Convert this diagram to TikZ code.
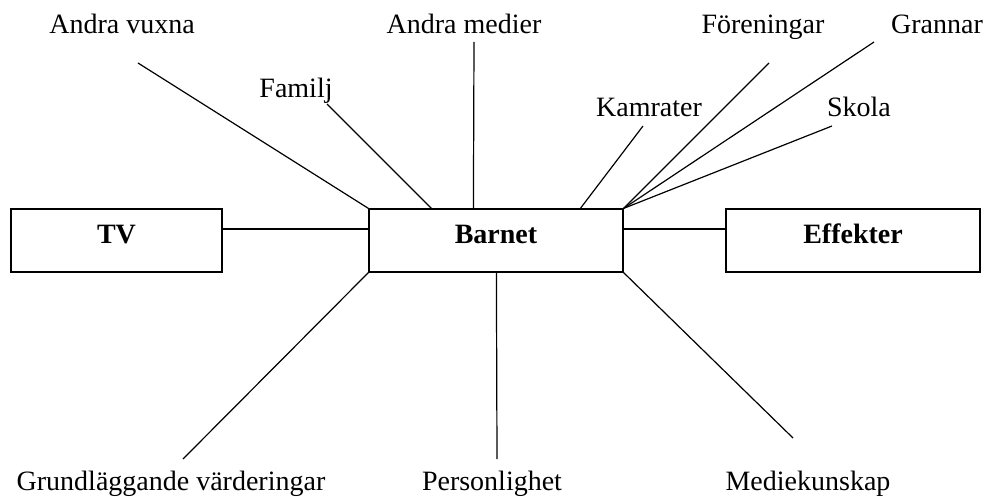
\documentclass[tikz,border=0pt]{standalone}
\usepackage{fontspec}
\setmainfont{Liberation Serif}
\usepackage{tikz}

\begin{document}
\begin{tikzpicture}[x=0.5pt, y=-0.5pt, line width=0.6pt,
    box/.style={rectangle, draw, inner sep=0pt, minimum height=31.5pt,
        text height=10pt, text depth=6.5pt, font=\fontsize{14}{16}\selectfont\bfseries},
    lbl/.style={anchor=base, inner sep=0pt, font=\fontsize{14}{16}\selectfont}]
            \useasboundingbox (0,0) rectangle (985,497);
            % Draw the three boxes in a row
            \node[box, minimum width=105.5pt] (TV) at (116.5, 240.5) {TV};
            \node[box, minimum width=127pt] (Barnet) at (496, 240.5) {Barnet};
            \node[box, minimum width=127pt] (Effekter) at (853, 240.5) {Effekter};
            \draw ([yshift=5.75pt]TV.east) -- ([yshift=5.75pt]Barnet.west);
            \draw ([yshift=5.75pt]Barnet.east) -- ([yshift=5.75pt]Effekter.west);

            % Labels above
            \node[lbl] (AV) at (122, 34) {Andra vuxna};
            \node[lbl] (AM) at (464, 34) {Andra medier};
            \node[lbl] (For) at (763, 34) {Föreningar};
            \node[lbl] (Gra) at (937, 34) {Grannar};
            \node[lbl] (Fam) at (296, 98) {Familj};
            \node[lbl] (Kam) at (649, 117) {Kamrater};
            \node[lbl] (Sko) at (859, 117) {Skola};
            % Labels below
            \node[lbl] (Gru) at (171, 490) {Grundläggande värderingar};
            \node[lbl] (Per) at (492, 490) {Personlighet};
            \node[lbl] (Med) at (808, 490) {Mediekunskap};

            % Free ends of the lines
            \coordinate (AV-e) at (138, 63);
            \coordinate (Fam-e) at (327, 104);
            \coordinate (AM-e) at (474, 42);
            \coordinate (Kam-e) at (643, 126);
            \coordinate (For-e) at (769, 63);
            \coordinate (Gra-e) at (874, 42);
            \coordinate (Sko-e) at (832, 126);
            \coordinate (Gru-e) at (183, 459);
            \coordinate (Per-e) at (497, 459);
            \coordinate (Med-e) at (793, 438);

            % Lines to the child
            \draw (AV-e) -- (Barnet.north west);
            \draw (Fam-e) -- ([xshift=31.5pt]Barnet.north west);
            \draw (AM-e) -- ([xshift=52.5pt]Barnet.north west);
            \draw (Kam-e) -- ([xshift=106pt]Barnet.north west);
            \foreach \n in {For, Gra, Sko}
                \draw (\n-e) -- (Barnet.north east);
            \draw (Barnet.south west) -- (Gru-e);
            \draw ([xshift=64pt]Barnet.south west) -- (Per-e);
            \draw (Barnet.south east) -- (Med-e);
\end{tikzpicture}
\end{document}
